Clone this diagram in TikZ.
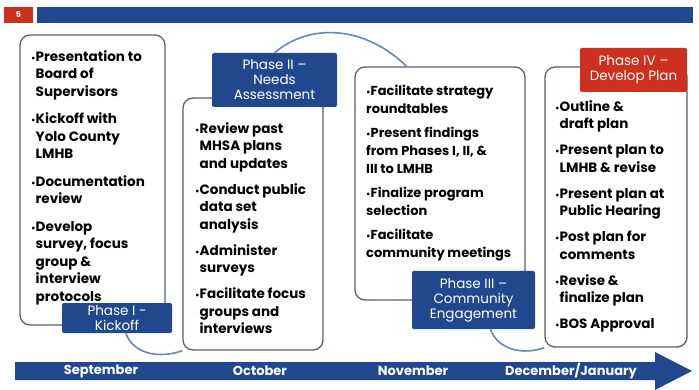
\documentclass[tikz,border=0pt]{standalone}
\usepackage{fontspec}
\setmainfont{Poppins}
\usetikzlibrary{positioning}
\definecolor{slideblue}{RGB}{33,72,140}
\definecolor{slidered}{RGB}{205,48,30}
\definecolor{framegray}{RGB}{88,96,112}
\definecolor{swoosh}{RGB}{105,135,175}
\newcommand{\dotmark}{{\small\textbullet}}
\newcommand{\skipdot}{\hphantom{\dotmark}}

\begin{document}
\begin{tikzpicture}[x=1pt, y=-1pt,
    stage/.style={draw=framegray, line width=1.3pt, rounded corners=10pt, fill=white},
    tag/.style={fill=slideblue, text=white, rounded corners=2pt, align=center, inner sep=0pt, font=\fontsize{13.5}{15}\selectfont},
    items/.style={anchor=north west, align=left, inner sep=0pt, font=\fontsize{13.5}{17.5}\selectfont\bfseries},
    link/.style={draw=swoosh, line width=1.6pt},
    month/.style={text=white, font=\fontsize{13}{14}\selectfont\bfseries}
  ]
    \useasboundingbox[fill=white] (0,0) rectangle (699,390);

    % header strip
    \fill[slidered] (4,7) rectangle (33,23);
    \node[text=white, font=\fontsize{8}{9}\selectfont\bfseries] (pageno) at (18.5,15) {5};
    \fill[slideblue] (37,7) rectangle (693,23);

    % phase boxes
    \node[stage, minimum width=145pt, minimum height=290pt] (kickoff) at (92.5,180) {};
    \node[stage, minimum width=140pt, minimum height=252pt] (needs) at (253,224) {};
    \node[stage, minimum width=170pt, minimum height=233pt] (engage) at (440,183.5) {};
    \node[stage, minimum width=142pt, minimum height=280pt] (plan) at (616,207) {};

    % phase tags
    \node[tag, minimum width=110pt, minimum height=30pt] (tagI) at (117,318) {Phase I -\\Kickoff};
    \node[tag, minimum width=125pt, minimum height=54pt] (tagII) at (274.5,80) {Phase II --\\Needs\\Assessment};
    \node[tag, minimum width=123pt, minimum height=58pt] (tagIII) at (473.5,300) {Phase III --\\Community\\Engagement};
    \node[tag, fill=slidered, minimum width=107pt, minimum height=44pt] (tagIV) at (633.5,70) {Phase IV --\\Develop Plan};

    % swooshes between phases
    \draw[link] (tagI.300) to[out=-70, in=200] (needs.south west);
    \draw[link] (tagII.north) to[out=40, in=135] (engage.106);
    \draw[link] (tagIII.300) to[out=-70, in=200] (plan.south west);

    % bullet lists
    \node[items] (listI) at (31,50) {\dotmark Presentation to\\ \skipdot Board of\\ \skipdot Supervisors\\[10pt]
      \dotmark Kickoff with\\ \skipdot Yolo County\\ \skipdot LMHB\\[10pt]
      \dotmark Documentation\\ \skipdot review\\[10pt]
      \dotmark Develop\\ \skipdot survey, focus\\ \skipdot group \&\\ \skipdot interview\\ \skipdot protocols};
    \node[items] (listII) at (195,122) {\dotmark Review past\\ \skipdot MHSA plans\\ \skipdot and updates\\[8.5pt]
      \dotmark Conduct public\\ \skipdot data set\\ \skipdot analysis\\[8.5pt]
      \dotmark Administer\\ \skipdot surveys\\[8.5pt]
      \dotmark Facilitate focus\\ \skipdot groups and\\ \skipdot interviews};
    \node[items, font=\fontsize{13}{18}\selectfont\bfseries] (listIII) at (366,85) {\dotmark Facilitate strategy\\ roundtables\\[6pt]
      \dotmark Present findings\\ from Phases I, II, \&\\ III to LMHB\\[6pt]
      \dotmark Finalize program\\ selection\\[6pt]
      \dotmark Facilitate\\ community meetings};
    \node[items] (listIV) at (555,100) {\dotmark Outline \&\\ \skipdot draft plan\\[8.5pt]
      \dotmark Present plan to\\ \skipdot LMHB \& revise\\[8.5pt]
      \dotmark Present plan at\\ \skipdot Public Hearing\\[8.5pt]
      \dotmark Post plan for\\ \skipdot comments\\[8.5pt]
      \dotmark Revise \&\\ \skipdot finalize plan\\[8.5pt]
      \dotmark BOS Approval};

    % timeline
    \fill[slideblue] (15,362) -- (655,362) -- (655,352) -- (692,371) -- (655,390) -- (655,380) -- (15,380) -- cycle;
    \node[month] (sep) at (101,371) {September};
    \node[month] (oct) at (260,371) {October};
    \node[month] (nov) at (413,371) {November};
    \node[month] (dec) at (571,371) {December/January};
\end{tikzpicture}
\end{document}
